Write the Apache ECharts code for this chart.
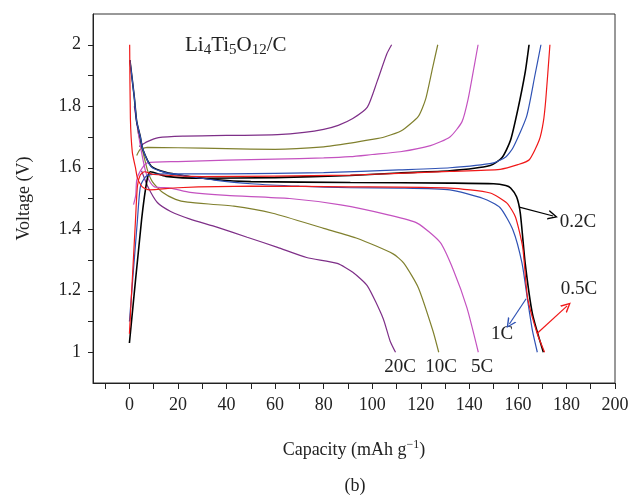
<!DOCTYPE html>
<html>
<head>
<meta charset="utf-8">
<script src="https://cdn.jsdelivr.net/npm/echarts@6/dist/echarts.min.js"></script>
<style>
  html, body { margin: 0; padding: 0; background: #fff; }
  #main { width: 632px; height: 497px; }
</style>
</head>
<body>
<div id="main"></div>
<script>
// axis ticks / labels
const xTicks = [-10, 0, 10, 20, 30, 40, 50, 60, 70, 80, 90, 100, 110, 120, 130, 140, 150, 160, 170, 180, 190, 200];
const xLabels = [0, 20, 40, 60, 80, 100, 120, 140, 160, 180, 200];
const yTicks = [1, 1.1, 1.2, 1.3, 1.4, 1.5, 1.6, 1.7, 1.8, 1.9, 2];
const yLabels = [1, 1.2, 1.4, 1.6, 1.8, 2];

// [capacity mAh/g, voltage V]
const c20Charge = [[4, 1.669], [7.4, 1.685], [12, 1.698], [22, 1.703], [40, 1.705], [61, 1.708], [72, 1.715], [80, 1.725], [86, 1.738], [92, 1.76], [98, 1.797], [102, 1.88], [106, 1.97], [108, 2.0]];
const c20Discharge = [[5, 1.59], [7.5, 1.54], [11.5, 1.487], [17, 1.458], [25, 1.433], [36, 1.407], [48.5, 1.374], [61, 1.341], [73, 1.308], [85.6, 1.289], [92, 1.26], [98, 1.216], [104.5, 1.11], [107.4, 1.036], [109.6, 1.0]];

const c10Charge = [[3, 1.64], [4.5, 1.66], [7.4, 1.666], [20, 1.665], [40, 1.662], [60, 1.66], [80, 1.668], [91, 1.68], [100, 1.692], [105, 1.70], [112, 1.72], [119, 1.767], [122, 1.823], [125, 1.93], [127, 2.0]];
const c10Discharge = [[3.3, 1.725], [5.3, 1.66], [7.4, 1.593], [9.5, 1.554], [13.6, 1.52], [19, 1.497], [24, 1.488], [43, 1.475], [59, 1.452], [80, 1.403], [94, 1.37], [108.6, 1.32], [113, 1.29], [119, 1.21], [125, 1.07], [127.4, 1.0]];

const c5Charge = [[1.7, 1.48], [2.6, 1.51], [3, 1.56], [4.5, 1.59], [7.4, 1.616], [20, 1.62], [40, 1.625], [60, 1.628], [80, 1.632], [91, 1.636], [100, 1.643], [111.5, 1.652], [124, 1.672], [132, 1.70], [137, 1.75], [139.5, 1.823], [142, 1.93], [143.6, 2.0]];
const c5Discharge = [[2, 1.80], [3.3, 1.73], [5, 1.65], [6.6, 1.59], [8, 1.56], [10.3, 1.538], [17, 1.534], [25, 1.52], [40, 1.51], [66, 1.50], [87, 1.479], [107, 1.446], [118.5, 1.42], [128, 1.357], [133.5, 1.266], [139, 1.145], [143.7, 1.0]];

const c1Charge = [[0, 1.10], [3.3, 1.43], [4.5, 1.538], [6.6, 1.57], [8.2, 1.577], [15, 1.58], [40, 1.58], [80, 1.584], [111, 1.593], [132, 1.60], [150, 1.616], [155, 1.635], [158, 1.665], [163.6, 1.767], [167, 1.90], [169.5, 2.0]];
const c1Discharge = [[0.2, 1.95], [2, 1.83], [3, 1.75], [4.5, 1.70], [5.5, 1.66], [9, 1.603], [15, 1.584], [22, 1.575], [35, 1.56], [50, 1.548], [70, 1.54], [91, 1.535], [111, 1.534], [132, 1.528], [145.7, 1.50], [152.7, 1.47], [158, 1.397], [161.7, 1.29], [163.8, 1.18], [166, 1.07], [168, 1.0]];

const c05Charge = [[0, 1.06], [2.5, 1.43], [3.3, 1.54], [4.5, 1.577], [6.2, 1.587], [10, 1.578], [30, 1.571], [60, 1.573], [91, 1.576], [111, 1.582], [132, 1.588], [152.7, 1.595], [160, 1.61], [164.7, 1.626], [168.8, 1.69], [170.5, 1.75], [171.5, 1.823], [173.2, 2.0]];
const c05Discharge = [[0.1, 2.0], [0.4, 1.76], [1.2, 1.65], [2.5, 1.60], [3.3, 1.567], [5.3, 1.538], [8.2, 1.528], [20, 1.535], [50, 1.54], [91, 1.538], [132, 1.534], [148.6, 1.518], [155.5, 1.485], [159, 1.44], [162, 1.34], [164, 1.177], [168, 1.06], [171, 1.0]];

const c02Charge = [[0, 1.03], [5, 1.43], [7.4, 1.567], [8.6, 1.587], [15, 1.572], [30, 1.566], [60, 1.568], [91, 1.575], [111, 1.583], [132, 1.59], [148.6, 1.607], [153.5, 1.633], [157, 1.69], [160, 1.79], [163, 1.91], [164.6, 2.0]];
const c02Discharge = [[0.2, 1.95], [2, 1.83], [3, 1.75], [4.5, 1.70], [5.5, 1.66], [9, 1.605], [15, 1.585], [22, 1.575], [35, 1.562], [50, 1.555], [91, 1.552], [132, 1.55], [150, 1.548], [155, 1.542], [157, 1.534], [159.5, 1.505], [161, 1.452], [163, 1.29], [166, 1.125], [170.5, 1.0]];

// annotation arrows [from, to] in data coords
const arrow02 = [[160.6, 1.472], [174.5, 1.443]];
const arrow05 = [[168, 1.062], [180.3, 1.151]];
const arrow1 = [[163.4, 1.174], [156.5, 1.092]];

const SERIF = 'Liberation Serif';
const TXT = '#222';
const chevron = 'path://M5,0 L10,10 L8.4,10 L5,3 L1.6,10 L0,10 Z';

function line(name, data, color, width, arrow) {
  const s = {
    name: name,
    type: 'line',
    data: data,
    showSymbol: false,
    symbol: 'none',
    smooth: 0.2,
    lineStyle: { color: color, width: width || 1.2 },
    itemStyle: { color: color },
    silent: true,
    animation: false,
  };
  if (arrow) {
    s.markLine = {
      silent: true,
      animation: false,
      symbol: ['none', chevron],
      symbolSize: 10,
      label: { show: false },
      lineStyle: { color: color, width: 1.2, type: 'solid' },
      data: [[{ coord: arrow[0] }, { coord: arrow[1] }]],
    };
  }
  return s;
}

const PURPLE = '#7e2f88';
const OLIVE = '#80802e';
const MAGENTA = '#c452c0';
const BLUE = '#2f52b4';
const RED = '#f01818';
const BLACK = '#000';

const myChart = echarts.init(document.getElementById('main'));
myChart.setOption({
  animation: false,
  grid: {
    left: 93, right: 17, top: 14, bottom: 114,
    show: true, borderColor: '#333', borderWidth: 1,
  },
  xAxis: {
    type: 'value',
    min: -15,
    max: 200,
    name: 'Capacity (mAh g{sup|−1})',
    nameLocation: 'middle',
    nameGap: 56,
    nameTextStyle: {
      fontFamily: SERIF, fontSize: 18, color: TXT,
      rich: { sup: { fontFamily: SERIF, fontSize: 12, color: TXT, padding: [0, 0, 10, 0] } },
    },
    axisLine: { show: true, onZero: false, lineStyle: { color: '#222', width: 1 } },
    axisTick: { show: true, customValues: xTicks, length: 6, lineStyle: { color: '#222' } },
    axisLabel: { customValues: xLabels, fontFamily: SERIF, fontSize: 18, color: TXT, margin: 13 },
    splitLine: { show: false },
  },
  yAxis: {
    type: 'value',
    min: 0.9,
    max: 2.1,
    name: 'Voltage (V)',
    nameLocation: 'middle',
    nameGap: 60,
    nameTextStyle: { fontFamily: SERIF, fontSize: 18, color: TXT },
    axisLine: { show: true, onZero: false, lineStyle: { color: '#222', width: 1 } },
    axisTick: { show: true, customValues: yTicks, length: 5, lineStyle: { color: '#222' } },
    axisLabel: { customValues: yLabels, fontFamily: SERIF, fontSize: 18, color: TXT, margin: 12 },
    splitLine: { show: false },
  },
  series: [
    line('20C charge', c20Charge, PURPLE),
    line('20C discharge', c20Discharge, PURPLE),
    line('10C charge', c10Charge, OLIVE),
    line('10C discharge', c10Discharge, OLIVE),
    line('5C charge', c5Charge, MAGENTA),
    line('5C discharge', c5Discharge, MAGENTA),
    line('0.2C charge', c02Charge, BLACK, 1.6),
    line('0.2C discharge', c02Discharge, BLACK, 1.6, arrow02),
    line('1C charge', c1Charge, BLUE),
    line('1C discharge', c1Discharge, BLUE, 1.2, arrow1),
    line('0.5C charge', c05Charge, RED),
    line('0.5C discharge', c05Discharge, RED, 1.2, arrow05),
  ],
  graphic: [
    {
      type: 'text', left: 185, top: 35,
      style: {
        text: 'Li{s|4}Ti{s|5}O{s|12}/C',
        font: '21px "Liberation Serif"',
        fill: TXT,
        rich: { s: { fontFamily: SERIF, fontSize: 15, fill: TXT, padding: [9, 0, 0, 0] } },
      },
    },
    { type: 'text', x: 578, y: 222, style: { text: '0.2C', font: '19px "Liberation Serif"', fill: TXT, align: 'center', verticalAlign: 'middle' } },
    { type: 'text', x: 579, y: 289, style: { text: '0.5C', font: '19px "Liberation Serif"', fill: TXT, align: 'center', verticalAlign: 'middle' } },
    { type: 'text', x: 502, y: 334, style: { text: '1C', font: '19px "Liberation Serif"', fill: TXT, align: 'center', verticalAlign: 'middle' } },
    { type: 'text', x: 400, y: 367, style: { text: '20C', font: '19px "Liberation Serif"', fill: TXT, align: 'center', verticalAlign: 'middle' } },
    { type: 'text', x: 441, y: 367, style: { text: '10C', font: '19px "Liberation Serif"', fill: TXT, align: 'center', verticalAlign: 'middle' } },
    { type: 'text', x: 482, y: 367, style: { text: '5C', font: '19px "Liberation Serif"', fill: TXT, align: 'center', verticalAlign: 'middle' } },
    { type: 'text', x: 355, y: 486, style: { text: '(b)', font: '18px "Liberation Serif"', fill: TXT, align: 'center', verticalAlign: 'middle' } },
  ],
});
</script>
</body>
</html>
